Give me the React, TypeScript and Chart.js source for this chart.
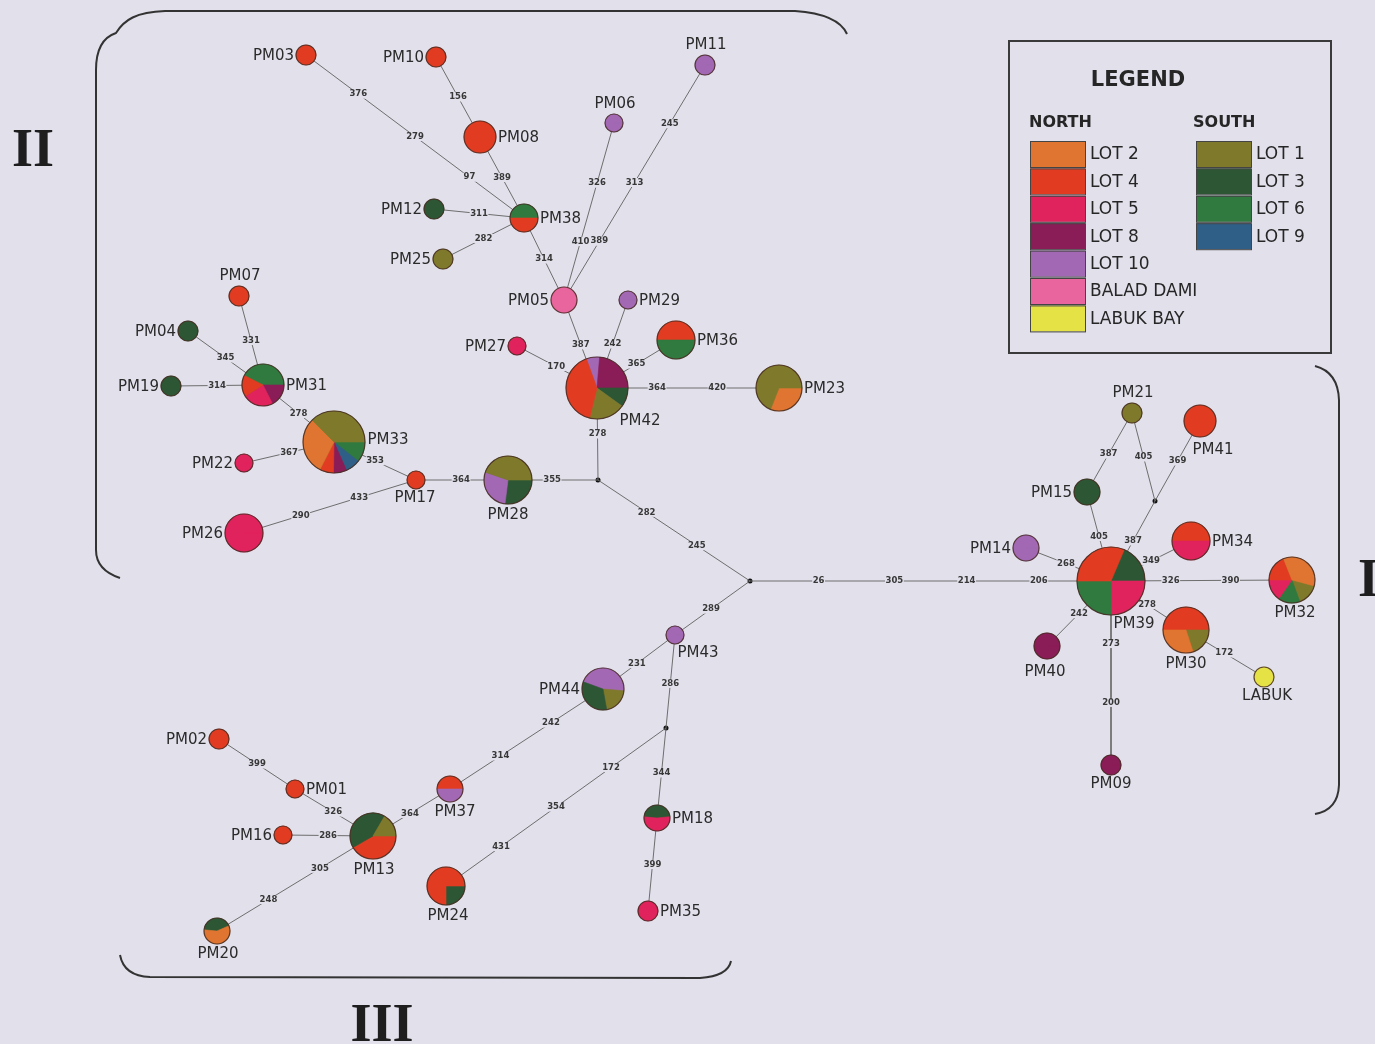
import React, { useEffect, useRef } from 'react';
import { Chart, registerables } from 'chart.js';
Chart.register(...registerables);

const BG = '#e1e0eb';

// Lots (legend)
const lotNames = ['LOT 2', 'LOT 4', 'LOT 5', 'LOT 8', 'LOT 10', 'BALAD DAMI', 'LABUK BAY', 'LOT 1', 'LOT 3', 'LOT 6', 'LOT 9'];
const lotKeys = ['L2', 'L4', 'L5', 'L8', 'L10', 'BD', 'LB', 'L1', 'L3', 'L6', 'L9'];
const lotColors = ['#df7530', '#e13c22', '#e0235d', '#8a1d57', '#a368b4', '#e9659d', '#e5e246', '#7f7a2b', '#2d5734', '#30793f', '#2f5f87'];
const northKeys = ['L2', 'L4', 'L5', 'L8', 'L10', 'BD', 'LB'];
const southKeys = ['L1', 'L3', 'L6', 'L9'];

// Haplotype nodes
const nodeNames = ['PM03', 'PM10', 'PM08', 'PM11', 'PM06', 'PM12', 'PM38', 'PM25', 'PM05', 'PM29', 'PM07', 'PM04', 'PM19', 'PM31', 'PM27', 'PM36', 'PM42', 'PM23', 'PM33', 'PM22', 'PM17', 'PM28', 'PM26', 'PM21', 'PM41', 'PM15', 'PM14', 'PM39', 'PM34', 'PM32', 'PM30', 'PM40', 'LABUK', 'PM09', 'PM43', 'PM44', 'PM02', 'PM01', 'PM37', 'PM16', 'PM13', 'PM18', 'PM24', 'PM35', 'PM20'];
const nodeX = [306, 436, 480, 705, 614, 434, 524, 443, 564, 628, 239, 188, 171, 263, 517, 676, 597, 779, 334, 244, 416, 508, 244, 1132, 1200, 1087, 1026, 1111, 1191, 1292, 1186, 1047, 1264, 1111, 675, 603, 219, 295, 450, 283, 373, 657, 446, 648, 217];
const nodeY = [55, 57, 137, 65, 123, 209, 218, 259, 300, 300, 296, 331, 386, 385, 346, 340, 388, 388, 442, 463, 480, 480, 533, 413, 421, 492, 548, 581, 541, 580, 630, 646, 677, 765, 635, 689, 739, 789, 789, 835, 836, 818, 886, 911, 931];
const nodeSize = [10, 10, 16, 10, 9, 10, 14, 10, 13, 9, 10, 10, 10, 21, 9, 19, 31, 23, 31, 9, 9, 24, 19, 10, 16, 13, 13, 34, 19, 23, 23, 13, 10, 10, 9, 21, 10, 9, 13, 9, 23, 13, 19, 10, 13];
const nodeLots: string[][] = [
  ['L4'], ['L4'], ['L4'], ['L10'], ['L10'], ['L3'], ['L6', 'L4'], ['L1'], ['BD'], ['L10'], ['L4'], ['L3'], ['L3'],
  ['L6', 'L8', 'L5', 'L4'], ['L5'], ['L4', 'L6'], ['L10', 'L8', 'L3', 'L1', 'L4'], ['L2', 'L1'],
  ['L6', 'L9', 'L8', 'L4', 'L2', 'L1'], ['L5'], ['L4'], ['L3', 'L10', 'L1'], ['L5'], ['L1'], ['L4'], ['L3'], ['L10'],
  ['L3', 'L5', 'L6', 'L4'], ['L4', 'L5'], ['L1', 'L6', 'L5', 'L4', 'L2'], ['L4', 'L1', 'L2'], ['L8'], ['LB'], ['L8'],
  ['L10'], ['L10', 'L1', 'L3'], ['L4'], ['L4'], ['L4', 'L10'], ['L4'], ['L4', 'L3', 'L1'], ['L3', 'L5'], ['L3', 'L4'], ['L5'], ['L3', 'L2'],
];
const nodeShares: number[][] = [
  [1], [1], [1], [1], [1], [1], [0.5, 0.5], [1], [1], [1], [1], [1], [1],
  [0.425, 0.175, 0.236, 0.164], [1], [0.5, 0.5], [0.069, 0.236, 0.1, 0.189, 0.406], [0.31, 0.69],
  [0.106, 0.078, 0.069, 0.072, 0.3, 0.375], [1], [1], [0.27, 0.283, 0.447], [1], [1], [1], [1], [1],
  [0.186, 0.25, 0.25, 0.314], [0.5, 0.5], [0.153, 0.153, 0.153, 0.189, 0.352], [0.5, 0.2, 0.3], [1], [1], [1],
  [1], [0.458, 0.208, 0.334], [1], [1], [0.5, 0.5], [1], [0.417, 0.417, 0.166], [0.47, 0.53], [0.25, 0.75], [1], [0.42, 0.58],
];
const nodeStartDeg = [0, 0, 0, 0, 0, 0, 180, 0, 0, 0, 0, 0, 0, 207, 0, 180, 250, 0, 0, 0, 0, 0, 0, 0, 0, 0, 0, 293, 180, 15, 180, 0, 0, 0, 0, 200, 0, 0, 180, 0, 0, 185, 0, 0, 185];

// Median vectors (unsampled junctions)
const junctionNames = ['J0', 'J1', 'J2', 'J3'];
const junctionX = [750, 598, 1155, 666];
const junctionY = [581, 480, 501, 728];

// Links and mutation labels
const edgeFrom = ['PM03', 'PM10', 'PM08', 'PM12', 'PM25', 'PM38', 'PM06', 'PM11', 'PM05', 'PM29', 'PM36', 'PM27', 'PM42', 'PM42', 'PM07', 'PM04', 'PM19', 'PM31', 'PM22', 'PM33', 'PM26', 'PM17', 'PM28', 'J1', 'J0', 'J0', 'PM43', 'PM43', 'J3', 'J3', 'PM44', 'PM37', 'PM02', 'PM01', 'PM16', 'PM13', 'PM18', 'PM39', 'PM15', 'PM21', 'PM41', 'J2', 'PM14', 'PM39', 'PM39', 'PM39', 'PM39', 'PM39', 'PM30'];
const edgeTo = ['PM38', 'PM08', 'PM38', 'PM38', 'PM38', 'PM05', 'PM05', 'PM05', 'PM42', 'PM42', 'PM42', 'PM42', 'PM23', 'J1', 'PM31', 'PM31', 'PM31', 'PM33', 'PM33', 'PM17', 'PM17', 'PM28', 'J1', 'J0', 'PM39', 'PM43', 'PM44', 'J3', 'PM18', 'PM24', 'PM37', 'PM13', 'PM01', 'PM13', 'PM13', 'PM20', 'PM35', 'PM15', 'PM21', 'J2', 'J2', 'PM39', 'PM39', 'PM34', 'PM32', 'PM30', 'PM40', 'PM09', 'LABUK'];
const edgeLabels: number[][] = [
  [376, 279, 97], [156], [389], [311], [282], [314], [326, 410], [245, 313, 389], [387], [242], [365], [170], [364, 420], [278],
  [331], [345], [314], [278], [367], [353], [290, 433], [364], [355], [282, 245], [26, 305, 214, 206], [289], [231], [286],
  [344], [172, 354, 431], [242, 314], [364], [399], [326], [286], [305, 248], [399], [405], [387], [405], [369], [387], [268],
  [349], [326, 390], [278], [242], [273, 200], [172],
];
const edgeLabelT: number[][] = [
  [0.24, 0.5, 0.75], [0.5], [0.5], [0.5], [0.5], [0.5], [0.34, 0.67], [0.25, 0.5, 0.75], [0.51], [0.5], [0.5], [0.49], [0.33, 0.66], [0.5],
  [0.5], [0.5], [0.5], [0.5], [0.5], [0.5], [0.33, 0.67], [0.49], [0.49], [0.32, 0.65], [0.19, 0.4, 0.6, 0.8], [0.52], [0.53], [0.52],
  [0.5], [0.25, 0.5, 0.75], [0.34, 0.67], [0.52], [0.5], [0.49], [0.5], [0.34, 0.67], [0.5], [0.5], [0.48], [0.5], [0.5], [0.5], [0.47],
  [0.5], [0.33, 0.66], [0.48], [0.5], [0.34, 0.66], [0.49],
];

// label placement: side code or explicit offset
const labelPlace: Record<string, [string, number, number]> = {
  PM03: ['l', 0, 0], PM10: ['l', 0, 0], PM08: ['r', 0, 0], PM11: ['t', 0, 0], PM06: ['t', 0, 0], PM12: ['l', 0, 0],
  PM38: ['r', 0, 0], PM25: ['l', 0, 0], PM05: ['l', 0, 0], PM29: ['r', 0, 0], PM07: ['t', 0, 0], PM04: ['l', 0, 0],
  PM19: ['l', 0, 0], PM31: ['r', 0, 0], PM27: ['l', 0, 0], PM36: ['r', 0, 0], PM42: ['c', 43, 33], PM23: ['r', 0, 0],
  PM33: ['c', 54, -2], PM22: ['l', 0, 0], PM17: ['c', -1, 18], PM28: ['c', 0, 35], PM26: ['l', 0, 0], PM21: ['t', 0, 0],
  PM41: ['c', 13, 29], PM15: ['l', 0, 0], PM14: ['l', 0, 0], PM39: ['c', 23, 43], PM34: ['r', 0, 0], PM32: ['c', 3, 33],
  PM30: ['c', 0, 34], PM40: ['c', -2, 26], LABUK: ['c', 3, 19], PM09: ['c', 0, 19], PM43: ['c', 23, 18], PM44: ['l', 0, 0],
  PM02: ['l', 0, 0], PM01: ['r', 0, 0], PM37: ['c', 5, 23], PM16: ['l', 0, 0], PM13: ['c', 1, 34], PM18: ['r', 0, 0],
  PM24: ['c', 2, 30], PM35: ['r', 0, 0], PM20: ['c', 1, 23],
};

const colorOf = (k: string) => lotColors[lotKeys.indexOf(k)];
const idxOf = (n: string) => nodeNames.indexOf(n);
const posOf = (n: string) => {
  const i = idxOf(n);
  if (i >= 0) return { x: nodeX[i], y: nodeY[i] };
  const j = junctionNames.indexOf(n);
  return { x: junctionX[j], y: junctionY[j] };
};

const networkPlugin = {
  id: 'network',
  beforeDraw(chart: any) {
    const { ctx, width, height } = chart;
    ctx.save();
    ctx.fillStyle = BG;
    ctx.fillRect(0, 0, width, height);
    ctx.restore();
  },
  afterDatasetsDraw(chart: any) {
    const { ctx } = chart;
    const sx = chart.scales.x, sy = chart.scales.y;
    const px = (v: number) => sx.getPixelForValue(v);
    const py = (v: number) => sy.getPixelForValue(v);
    ctx.save();
    // edge labels
    ctx.font = 'bold 8.5px "DejaVu Sans"';
    ctx.textAlign = 'center';
    ctx.textBaseline = 'middle';
    edgeFrom.forEach((f, e) => {
      const a = posOf(f), b = posOf(edgeTo[e]);
      edgeLabels[e].forEach((lab, k) => {
        const t = edgeLabelT[e][k];
        const x = px(a.x + (b.x - a.x) * t), y = py(a.y + (b.y - a.y) * t);
        const s = String(lab);
        const w = ctx.measureText(s).width;
        ctx.fillStyle = BG;
        ctx.fillRect(x - w / 2 - 0.5, y - 4.5, w + 1, 9);
        ctx.fillStyle = '#383838';
        ctx.fillText(s, x, y);
      });
    });
    // pies
    nodeNames.forEach((n, i) => {
      const cx = px(nodeX[i]), cy = py(nodeY[i]);
      const r = Math.abs(px(nodeX[i] + nodeSize[i]) - cx);
      let ang = (nodeStartDeg[i] * Math.PI) / 180;
      nodeLots[i].forEach((k, j) => {
        const sweep = nodeShares[i][j] * Math.PI * 2;
        ctx.beginPath();
        ctx.moveTo(cx, cy);
        ctx.arc(cx, cy, r, ang, ang + sweep);
        ctx.closePath();
        ctx.fillStyle = colorOf(k);
        ctx.fill();
        ctx.strokeStyle = colorOf(k);
        ctx.lineWidth = 0.6;
        ctx.stroke();
        ang += sweep;
      });
      ctx.beginPath();
      ctx.arc(cx, cy, r, 0, Math.PI * 2);
      ctx.strokeStyle = 'rgba(70,45,35,0.85)';
      ctx.lineWidth = 1.2;
      ctx.stroke();
    });
    // node labels
    ctx.font = '15px "DejaVu Sans"';
    ctx.fillStyle = '#2b2b2b';
    nodeNames.forEach((n, i) => {
      const cx = px(nodeX[i]), cy = py(nodeY[i]);
      const r = nodeSize[i];
      const [side, dx, dy] = labelPlace[n];
      const label = n;
      ctx.textBaseline = 'middle';
      if (side === 'l') { ctx.textAlign = 'right'; ctx.fillText(label, cx - r - 2, cy + 1); }
      else if (side === 'r') { ctx.textAlign = 'left'; ctx.fillText(label, cx + r + 2, cy + 1); }
      else if (side === 't') { ctx.textAlign = 'center'; ctx.fillText(label, cx + 1, cy - r - 10); }
      else { ctx.textAlign = 'center'; ctx.fillText(label, cx + dx, cy + dy); }
    });
    ctx.restore();
  },
  afterDraw(chart: any) {
    const { ctx } = chart;
    const sx = chart.scales.x, sy = chart.scales.y;
    const px = (v: number) => sx.getPixelForValue(v);
    const py = (v: number) => sy.getPixelForValue(v);
    ctx.save();
    // brackets
    ctx.strokeStyle = '#333';
    ctx.lineWidth = 2;
    ctx.beginPath();
    ctx.moveTo(px(120), py(578));
    ctx.quadraticCurveTo(px(96), py(570), px(96), py(550));
    ctx.lineTo(px(96), py(70));
    ctx.bezierCurveTo(px(96), py(48), px(104), py(37), px(116), py(33));
    ctx.bezierCurveTo(px(124), py(20), px(136), py(12), px(165), py(11));
    ctx.lineTo(px(795), py(11));
    ctx.quadraticCurveTo(px(838), py(14), px(847), py(34));
    ctx.stroke();

    ctx.beginPath();
    ctx.moveTo(px(1315), py(366));
    ctx.quadraticCurveTo(px(1338), py(372), px(1339), py(400));
    ctx.lineTo(px(1339), py(785));
    ctx.quadraticCurveTo(px(1338), py(810), px(1315), py(814));
    ctx.stroke();

    ctx.beginPath();
    ctx.moveTo(px(120), py(955));
    ctx.quadraticCurveTo(px(124), py(976), px(150), py(977));
    ctx.lineTo(px(700), py(978));
    ctx.quadraticCurveTo(px(728), py(976), px(731), py(961));
    ctx.stroke();

    // roman numerals
    ctx.fillStyle = '#1e1e1e';
    ctx.font = 'bold 54px "Liberation Serif"';
    ctx.textBaseline = 'alphabetic';
    ctx.textAlign = 'center';
    ctx.fillText('II', px(33), py(166));
    ctx.fillText('III', px(382), py(1041));
    ctx.textAlign = 'left';
    ctx.fillText('I', px(1358), py(596));

    // legend box
    ctx.strokeStyle = '#3a3a3a';
    ctx.lineWidth = 2;
    ctx.strokeRect(px(1009), py(41), px(1331) - px(1009), py(353) - py(41));
    ctx.fillStyle = '#262626';
    ctx.textAlign = 'center';
    ctx.textBaseline = 'middle';
    ctx.font = 'bold 21px "DejaVu Sans"';
    ctx.fillText('LEGEND', px(1138), py(81));
    ctx.font = 'bold 16px "DejaVu Sans"';
    ctx.textAlign = 'left';
    ctx.fillText('NORTH', px(1029), py(123));
    ctx.fillText('SOUTH', px(1193), py(123));
    const drawCol = (keys: string[], x0: number, tx: number) => {
      keys.forEach((k, i) => {
        const top = 141 + i * 27.4;
        ctx.fillStyle = colorOf(k);
        ctx.fillRect(px(x0), py(top), 55, 26);
        ctx.strokeStyle = '#444';
        ctx.lineWidth = 1;
        ctx.strokeRect(px(x0) + 0.5, py(top) + 0.5, 55, 26);
        ctx.fillStyle = '#262626';
        ctx.font = '17px "DejaVu Sans"';
        ctx.fillText(lotNames[lotKeys.indexOf(k)], px(tx), py(top + 14));
      });
    };
    drawCol(northKeys, 1030, 1090);
    drawCol(southKeys, 1196, 1256);
    ctx.restore();
  },
};

export default function App() {
  const ref = useRef<HTMLCanvasElement>(null);
  useEffect(() => {
    document.body.style.margin = '0';
    document.body.style.background = BG;
    const edgeSets = edgeFrom.map((f, e) => ({
      type: 'scatter' as const,
      data: [posOf(f), posOf(edgeTo[e])],
      showLine: true,
      borderColor: '#6e6e6e',
      borderWidth: 1,
      pointRadius: 0,
      clip: false,
    }));
    const chart = new Chart(ref.current!, {
      type: 'scatter',
      data: {
        datasets: [
          ...edgeSets,
          {
            data: junctionX.map((x, i) => ({ x, y: junctionY[i] })),
            pointRadius: 2.5,
            pointBackgroundColor: '#111',
            pointBorderWidth: 0,
            clip: false,
          } as any,
          {
            data: nodeX.map((x, i) => ({ x, y: nodeY[i] })),
            pointRadius: nodeSize,
            pointBackgroundColor: nodeLots.map((l) => colorOf(l[0])),
            pointBorderWidth: 0,
            clip: false,
          } as any,
        ],
      },
      options: {
        animation: false,
        responsive: true,
        maintainAspectRatio: false,
        layout: { padding: 0, autoPadding: false },
        events: [],
        scales: {
          x: { type: 'linear', min: 0, max: 1375, display: false },
          y: { type: 'linear', min: 0, max: 1044, reverse: true, display: false },
        },
        plugins: { legend: { display: false }, tooltip: { enabled: false } },
      } as any,
      plugins: [networkPlugin],
    });
    return () => chart.destroy();
  }, []);
  return (
    <div style={{ position: 'absolute', left: 0, top: 0, width: 1375, height: 1044 }}>
      <canvas ref={ref} />
    </div>
  );
}
